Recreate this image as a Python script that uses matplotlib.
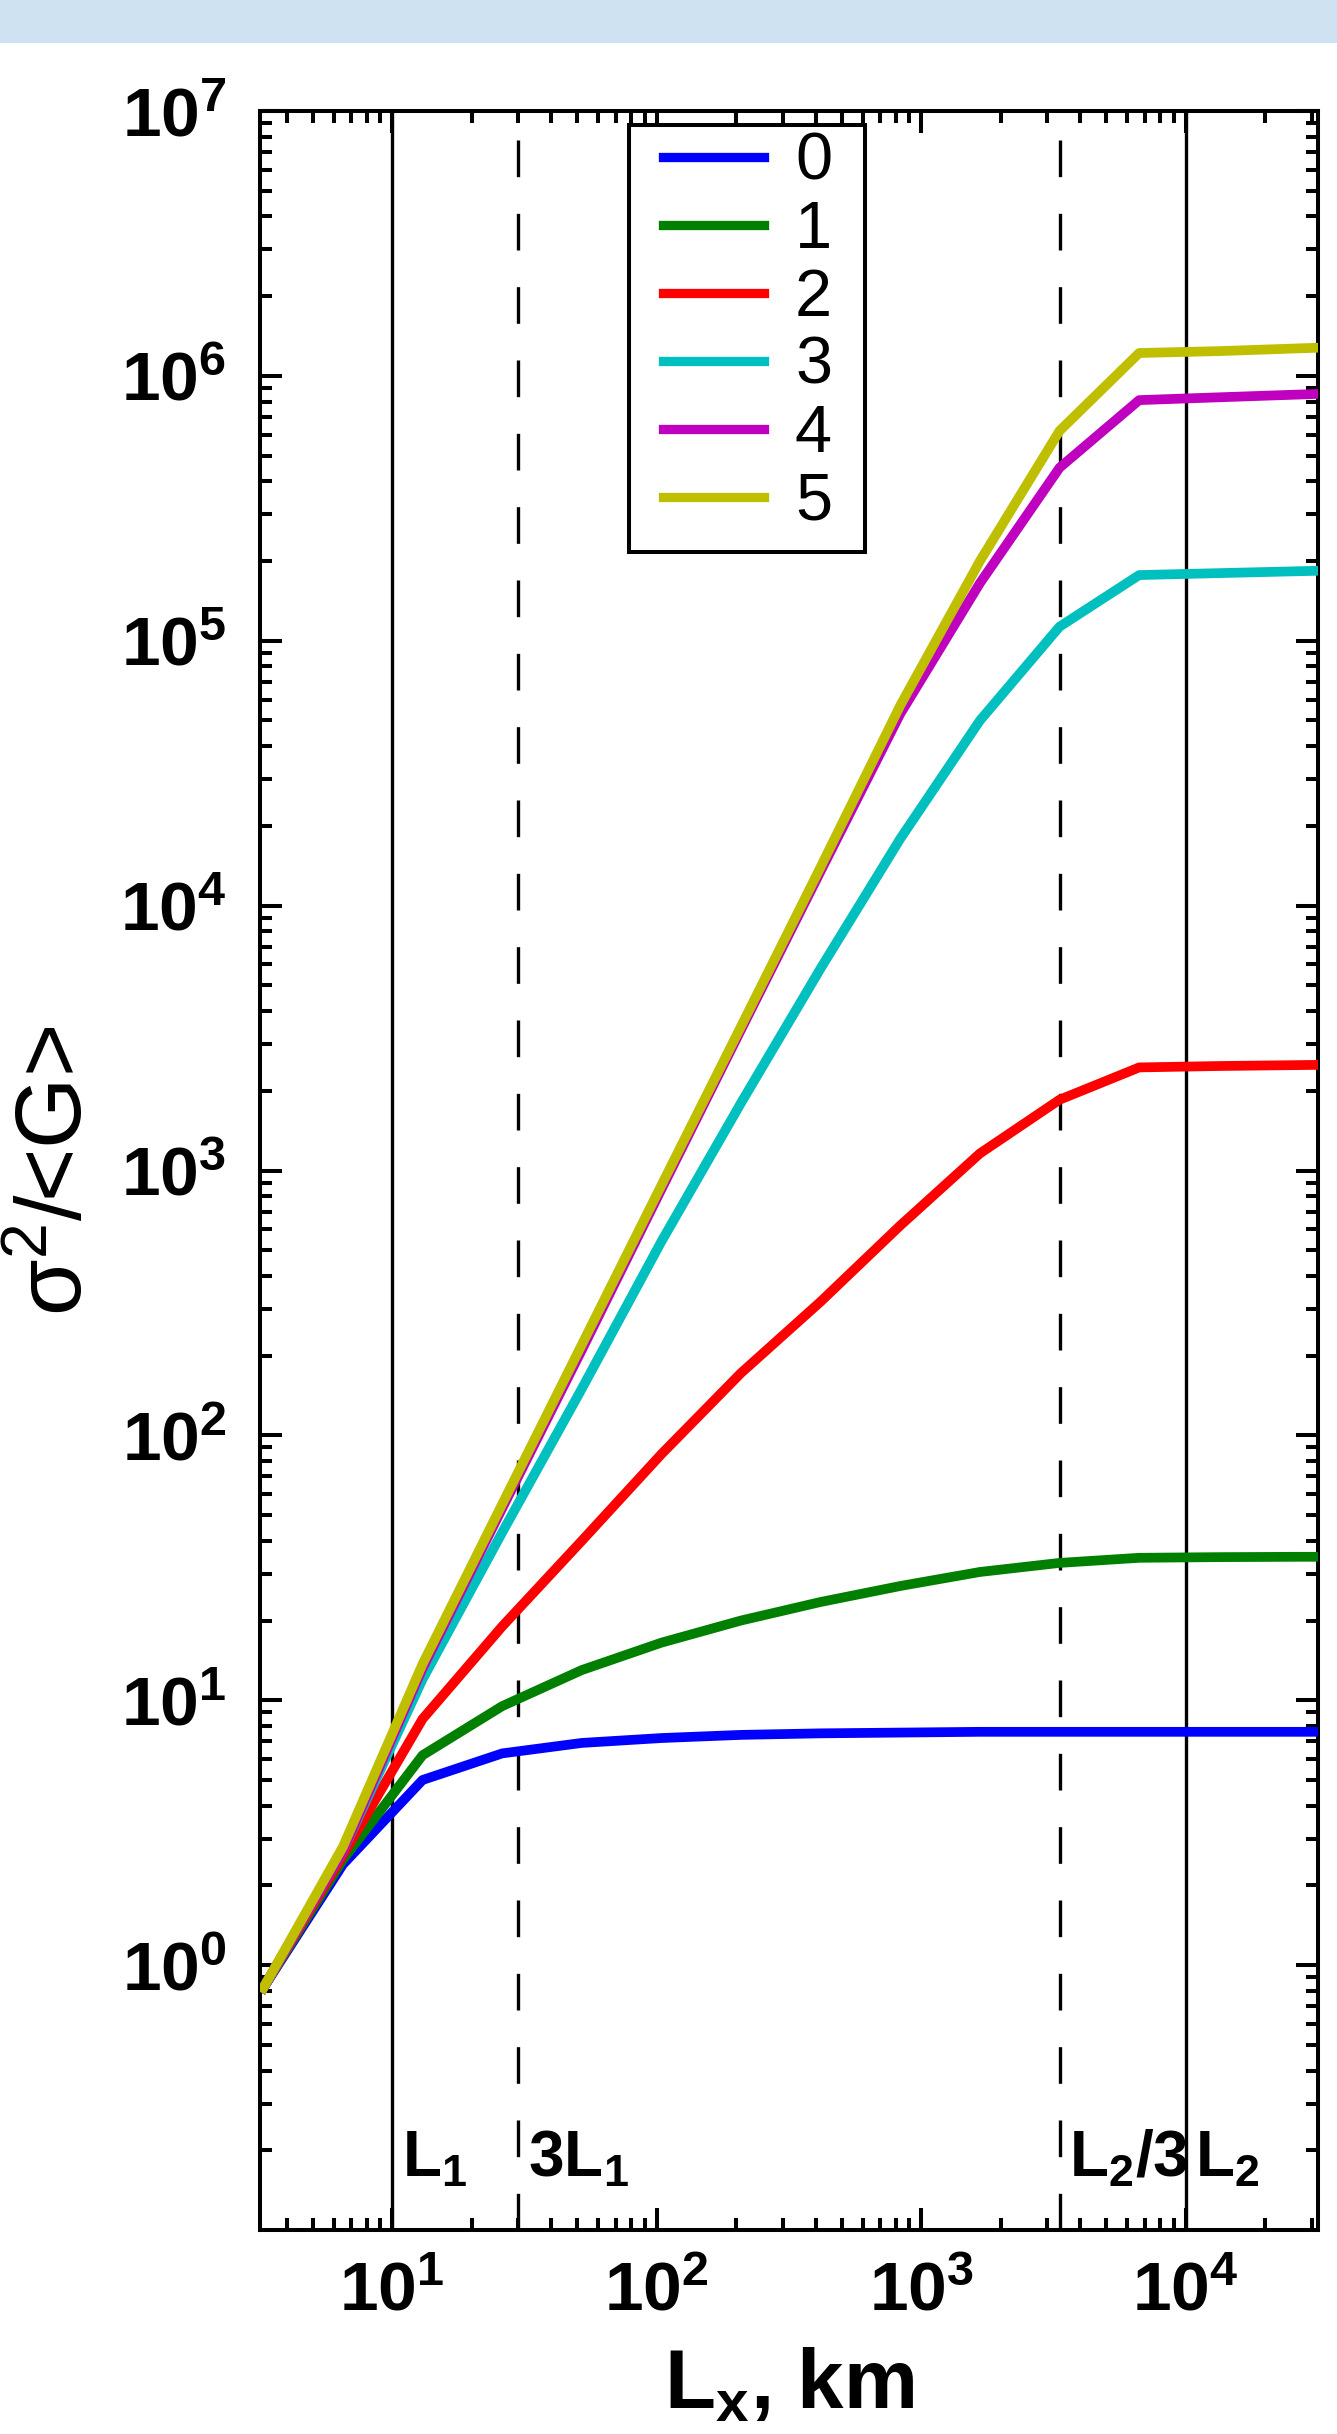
import numpy as np
import matplotlib
matplotlib.use('Agg')
import matplotlib.pyplot as plt
from matplotlib.patches import Rectangle
from matplotlib.ticker import FixedLocator, LogLocator, NullFormatter

plt.rcParams['font.family'] = ['Liberation Sans', 'DejaVu Sans']
plt.rcParams['mathtext.fontset'] = 'custom'
plt.rcParams['mathtext.rm'] = 'Liberation Sans'
plt.rcParams['mathtext.bf'] = 'Liberation Sans:bold'
plt.rcParams['mathtext.it'] = 'Liberation Sans:italic'

# scale Lx, km
Lx = [3.255, 6.51, 13.02, 26.04, 52.08, 104.2, 208.3, 416.7, 833.3,
      1666.7, 3333.3, 6666.7, 13333.3, 26666.7, 53333.3]

# sigma^2/<G> for each order
s0 = [0.82, 2.4, 5.0, 6.3, 6.9, 7.2, 7.4, 7.5, 7.55, 7.6, 7.6, 7.6, 7.6, 7.6, 7.6]
s1 = [0.82, 2.5, 6.2, 9.5, 13.0, 16.5, 20.0, 23.5, 27.0, 30.5, 33.0, 34.5, 34.7, 34.8, 34.8]
s2 = [0.82, 2.6, 8.5, 19.0, 40.0, 85.0, 172, 320, 620, 1160, 1850, 2450, 2480, 2500, 2520]
s3 = [0.82, 2.7, 12.0, 43.0, 150, 540, 1800, 5800, 17900, 50000, 113000,
      177000, 180000, 183000, 186000]
s4 = [0.82, 2.7, 13.2, 53, 210, 850, 3400, 13500, 53000, 165000, 450000,
      810000, 830000, 850000, 870000]
s5 = [0.82, 2.8, 13.7, 55, 220, 880, 3500, 14000, 57000, 200000, 620000,
      1220000, 1240000, 1270000, 1300000]

series = [s0, s1, s2, s3, s4, s5]
labels = ['0', '1', '2', '3', '4', '5']
colors = ['#0000ff', '#007f00', '#ff0000', '#00bfbf', '#bf00bf', '#bfbf00']

# reference scales
L1 = 10.0
L2 = 1.0e4
vlines = [L1, 3 * L1, L2 / 3, L2]
vstyles = ['solid', 'dashed', 'dashed', 'solid']
vnames = [r'$\mathbf{L_1}$', r'$\mathbf{3L_1}$', r'$\mathbf{L_2/3}$', r'$\mathbf{L_2}$']

W, H = 1337, 2434
fig = plt.figure(figsize=(W / 100, H / 100), dpi=100)
fig.patches.append(Rectangle((0, 1 - 43 / H), 1, 43 / H, transform=fig.transFigure,
                             facecolor='#cfe2f1', edgecolor='none', zorder=0))
ax = fig.add_axes([260 / W, 1 - 2230 / H, 1058 / W, 2119 / H])

for xv, st in zip(vlines, vstyles):
    if st == 'dashed':
        ax.axvline(xv, color='k', lw=2.4, dashes=(11, 11), zorder=1)
    else:
        ax.axvline(xv, color='k', lw=2.4, zorder=1)

for ys, lab, c in zip(series, labels, colors):
    ax.plot(Lx, ys, color=c, lw=7, label=lab, zorder=3)

ax.set_xscale('log')
ax.set_yscale('log')
ax.set_xlim(10 ** 0.5, 10 ** 4.5)
ax.set_ylim(0.1, 1e7)

xt = [10, 100, 1000, 10000]
yt = [1, 10, 100, 1e3, 1e4, 1e5, 1e6, 1e7]
ax.xaxis.set_major_locator(FixedLocator(xt))
ax.yaxis.set_major_locator(FixedLocator(yt))
ax.set_xticklabels([r'$\mathbf{10^{%d}}$' % int(np.log10(v)) for v in xt])
ax.set_yticklabels([r'$\mathbf{10^{%d}}$' % int(np.log10(v)) for v in yt])
ax.xaxis.set_minor_locator(LogLocator(base=10, subs=np.arange(2, 10), numticks=20))
ax.yaxis.set_minor_locator(LogLocator(base=10, subs=np.arange(2, 10), numticks=20))
ax.xaxis.set_minor_formatter(NullFormatter())
ax.yaxis.set_minor_formatter(NullFormatter())

ax.tick_params(which='both', direction='in', top=True, right=True, width=2.9, labelsize=50)
ax.tick_params(which='major', length=16)
ax.tick_params(which='minor', length=8.5)
ax.tick_params(axis='x', which='major', pad=22)
ax.tick_params(axis='y', which='major', pad=24)
for sp in ax.spines.values():
    sp.set_linewidth(2.9)

for xv, nm in zip(vlines, vnames):
    ax.annotate(nm, xy=(xv, 0.025), xycoords=ax.get_xaxis_transform(),
                xytext=(7, 0), textcoords='offset points',
                fontsize=46, ha='left', va='baseline', zorder=4)

ax.set_xlabel(r'$\mathbf{L_x}$, km', fontsize=60, fontweight='bold', va='bottom')
ax.xaxis.set_label_coords(0.5, -0.0925)
ax.set_ylabel('σ$^{2}$/<G>', fontsize=66)
ax.yaxis.set_label_coords(-0.15, 0.5)

# legend: frame drawn separately, entries placed inside it
box = Rectangle((629 / W, 1 - 552 / H), 236 / W, 427 / H, transform=fig.transFigure,
                facecolor='white', edgecolor='k', lw=2.9, zorder=5, clip_on=False)
ax.add_patch(box)
leg = ax.legend(loc='upper left', bbox_to_anchor=(663 / W, 1 - 132 / H),
                bbox_transform=fig.transFigure, borderaxespad=0, borderpad=0,
                fontsize=48, handlelength=1.52, handletextpad=0.46, labelspacing=0.09,
                frameon=False)
leg.set_zorder(6)
for ln in leg.get_lines():
    ln.set_linewidth(6.7)

fig.savefig('out.png', dpi=100)
